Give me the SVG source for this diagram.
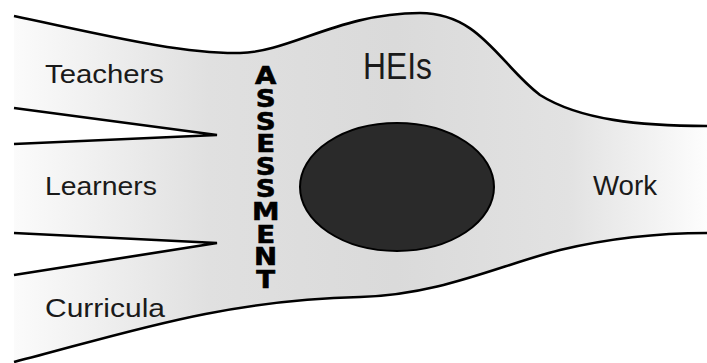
<svg xmlns="http://www.w3.org/2000/svg" width="707" height="363" viewBox="0 0 707 363">
<defs>
<linearGradient id="bandGrad" gradientUnits="userSpaceOnUse" x1="14" y1="0" x2="707" y2="0">
<stop offset="0" stop-color="#fbfbfb"/>
<stop offset="0.28" stop-color="#e0e0e0"/>
<stop offset="0.55" stop-color="#dadada"/>
<stop offset="0.8" stop-color="#e2e2e2"/>
<stop offset="1" stop-color="#fdfdfd"/>
</linearGradient>
</defs>
<style>
.edge{fill:none;stroke:#000;stroke-width:2.6;stroke-linejoin:miter;stroke-linecap:butt}
.lbl{font-family:"Liberation Sans",Arial,sans-serif;fill:#1a1a1a}
.as{font-family:"DejaVu Sans","Liberation Sans",sans-serif;font-weight:bold;font-size:24px;fill:#000;stroke:#000;stroke-width:0.6;writing-mode:vertical-rl;text-orientation:upright;letter-spacing:-5.2px}
</style>
<rect x="0" y="0" width="707" height="363" fill="#ffffff"/>
<g id="band">
<path d="M14,16 C100,34 180,54 240,53 C290,52 340,13 420,13 C480,13 500,65 540,95 C580,120 640,126 707,126 L707,233 C660,233 610,238 560,250 C500,265 440,295 360,297 C220,300 120,335 14,362 Z" fill="url(#bandGrad)"/>
<path class="edge" d="M14,16 C100,34 180,54 240,53 C290,52 340,13 420,13 C480,13 500,65 540,95 C580,120 640,126 707,126"/>
<path class="edge" d="M707,233 C660,233 610,238 560,250 C500,265 440,295 360,297 C220,300 120,335 14,362"/>
</g>
<g id="wedge-upper">
<polygon points="14,108 217,135 14,144" fill="#ffffff"/>
<polyline class="edge" points="14,108 217,135 14,144"/>
</g>
<g id="wedge-lower">
<polygon points="14,233 217,243 14,275" fill="#ffffff"/>
<polyline class="edge" points="14,233 217,243 14,275"/>
</g>
<g id="teachers"><text class="lbl" x="45" y="83" font-size="25" textLength="119" lengthAdjust="spacingAndGlyphs">Teachers</text></g>
<g id="learners"><text class="lbl" x="45" y="195" font-size="25" textLength="112" lengthAdjust="spacingAndGlyphs">Learners</text></g>
<g id="curricula"><text class="lbl" x="45" y="317" font-size="25" textLength="120" lengthAdjust="spacingAndGlyphs">Curricula</text></g>
<g id="heis"><text class="lbl" x="363" y="79" font-size="36" textLength="69" lengthAdjust="spacingAndGlyphs">HEIs</text></g>
<g id="work"><text class="lbl" x="593" y="195" font-size="27" textLength="64" lengthAdjust="spacingAndGlyphs">Work</text></g>
<g id="hei-core">
<ellipse cx="397" cy="187" rx="97" ry="64" fill="#2a2a2a" stroke="#000" stroke-width="2"/>
</g>
<g id="assessment">
<text class="as" transform="scale(1.15,1)" x="231" y="62">ASSESSMENT</text>
</g>
</svg>
